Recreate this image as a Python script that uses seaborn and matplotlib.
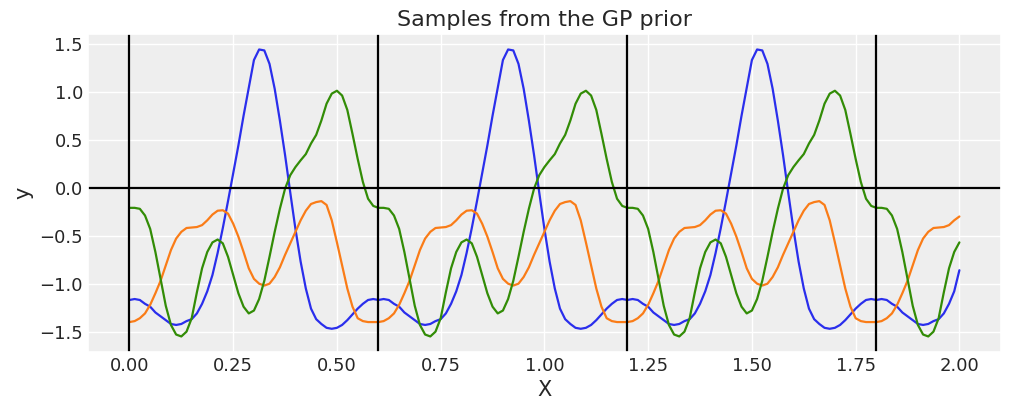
import numpy as np
import pandas as pd
import matplotlib
matplotlib.use("Agg")
import matplotlib.pyplot as plt
import seaborn as sns

# x grid (step 0.0125 from 0 to 2)
x_vals = [round(0.0125 * i, 4) for i in range(161)]

# values; the periodic kernel makes each 0.6 block repeat
blue_vals = [
    -1.17, -1.16, -1.17, -1.21, -1.24, -1.30, -1.34, -1.38, -1.42, -1.43, -1.42, -1.39,
    -1.37, -1.31, -1.21, -1.08, -0.91, -0.68, -0.42, -0.14, 0.15, 0.44, 0.75, 1.04,
    1.33, 1.44, 1.43, 1.29, 1.03, 0.70, 0.34, -0.05, -0.43, -0.77, -1.05, -1.26,
    -1.37, -1.42, -1.46, -1.47, -1.46, -1.43, -1.38, -1.32, -1.26, -1.21, -1.17, -1.16,
    -1.17, -1.16, -1.17, -1.21, -1.24, -1.30, -1.34, -1.38, -1.42, -1.43, -1.42, -1.39,
    -1.37, -1.31, -1.21, -1.08, -0.91, -0.68, -0.42, -0.14, 0.15, 0.44, 0.75, 1.04,
    1.33, 1.44, 1.43, 1.29, 1.03, 0.70, 0.34, -0.05, -0.43, -0.77, -1.05, -1.26,
    -1.37, -1.42, -1.46, -1.47, -1.46, -1.43, -1.38, -1.32, -1.26, -1.21, -1.17, -1.16,
    -1.17, -1.16, -1.17, -1.21, -1.24, -1.30, -1.34, -1.38, -1.42, -1.43, -1.42, -1.39,
    -1.37, -1.31, -1.21, -1.08, -0.91, -0.68, -0.42, -0.14, 0.15, 0.44, 0.75, 1.04,
    1.33, 1.44, 1.43, 1.29, 1.03, 0.70, 0.34, -0.05, -0.43, -0.77, -1.05, -1.26,
    -1.37, -1.42, -1.46, -1.47, -1.46, -1.43, -1.38, -1.32, -1.26, -1.21, -1.17, -1.16,
    -1.17, -1.16, -1.17, -1.21, -1.24, -1.30, -1.34, -1.38, -1.42, -1.43, -1.42, -1.39,
    -1.37, -1.31, -1.21, -1.08, -0.86,
]
orange_vals = [
    -1.40, -1.39, -1.36, -1.31, -1.22, -1.10, -0.97, -0.81, -0.65, -0.53, -0.46, -0.42,
    -0.415, -0.41, -0.39, -0.34, -0.28, -0.24, -0.235, -0.27, -0.375, -0.51, -0.67, -0.84,
    -0.95, -1.00, -1.02, -1.00, -0.93, -0.83, -0.70, -0.58, -0.46, -0.34, -0.24, -0.17,
    -0.15, -0.14, -0.18, -0.34, -0.57, -0.81, -1.05, -1.24, -1.36, -1.39, -1.40, -1.40,
    -1.40, -1.39, -1.36, -1.31, -1.22, -1.10, -0.97, -0.81, -0.65, -0.53, -0.46, -0.42,
    -0.415, -0.41, -0.39, -0.34, -0.28, -0.24, -0.235, -0.27, -0.375, -0.51, -0.67, -0.84,
    -0.95, -1.00, -1.02, -1.00, -0.93, -0.83, -0.70, -0.58, -0.46, -0.34, -0.24, -0.17,
    -0.15, -0.14, -0.18, -0.34, -0.57, -0.81, -1.05, -1.24, -1.36, -1.39, -1.40, -1.40,
    -1.40, -1.39, -1.36, -1.31, -1.22, -1.10, -0.97, -0.81, -0.65, -0.53, -0.46, -0.42,
    -0.415, -0.41, -0.39, -0.34, -0.28, -0.24, -0.235, -0.27, -0.375, -0.51, -0.67, -0.84,
    -0.95, -1.00, -1.02, -1.00, -0.93, -0.83, -0.70, -0.58, -0.46, -0.34, -0.24, -0.17,
    -0.15, -0.14, -0.18, -0.34, -0.57, -0.81, -1.05, -1.24, -1.36, -1.39, -1.40, -1.40,
    -1.40, -1.39, -1.36, -1.31, -1.22, -1.10, -0.97, -0.81, -0.65, -0.53, -0.46, -0.42,
    -0.415, -0.41, -0.39, -0.34, -0.30,
]
green_vals = [
    -0.21, -0.21, -0.22, -0.29, -0.43, -0.67, -0.95, -1.23, -1.43, -1.53, -1.55, -1.50,
    -1.36, -1.09, -0.84, -0.67, -0.57, -0.54, -0.58, -0.72, -0.91, -1.10, -1.24, -1.31,
    -1.28, -1.16, -0.97, -0.72, -0.46, -0.22, -0.01, 0.13, 0.215, 0.285, 0.35, 0.46,
    0.55, 0.70, 0.875, 0.98, 1.01, 0.96, 0.81, 0.56, 0.30, 0.06, -0.115, -0.19,
    -0.21, -0.21, -0.22, -0.29, -0.43, -0.67, -0.95, -1.23, -1.43, -1.53, -1.55, -1.50,
    -1.36, -1.09, -0.84, -0.67, -0.57, -0.54, -0.58, -0.72, -0.91, -1.10, -1.24, -1.31,
    -1.28, -1.16, -0.97, -0.72, -0.46, -0.22, -0.01, 0.13, 0.215, 0.285, 0.35, 0.46,
    0.55, 0.70, 0.875, 0.98, 1.01, 0.96, 0.81, 0.56, 0.30, 0.06, -0.115, -0.19,
    -0.21, -0.21, -0.22, -0.29, -0.43, -0.67, -0.95, -1.23, -1.43, -1.53, -1.55, -1.50,
    -1.36, -1.09, -0.84, -0.67, -0.57, -0.54, -0.58, -0.72, -0.91, -1.10, -1.24, -1.31,
    -1.28, -1.16, -0.97, -0.72, -0.46, -0.22, -0.01, 0.13, 0.215, 0.285, 0.35, 0.46,
    0.55, 0.70, 0.875, 0.98, 1.01, 0.96, 0.81, 0.56, 0.30, 0.06, -0.115, -0.19,
    -0.21, -0.21, -0.22, -0.29, -0.43, -0.67, -0.95, -1.23, -1.43, -1.53, -1.55, -1.50,
    -1.36, -1.09, -0.84, -0.67, -0.57,
]
period_marks = [0.0, 0.6, 1.2, 1.8]

colors = ["#2a2eec", "#fa7c17", "#328c06"]

sns.set_theme(style="darkgrid", rc={
    "axes.facecolor": "#eeeeee",
    "figure.facecolor": "white",
    "grid.color": "white",
    "grid.linewidth": 1.0,
    "axes.edgecolor": "white",
})
plt.rcParams["font.family"] = ["DejaVu Sans"]

fig, ax = plt.subplots(figsize=(10.11, 4.11), dpi=100)
fig.subplots_adjust(left=0.087, right=0.99, top=0.917, bottom=0.144)

for vals, c in zip([blue_vals, orange_vals, green_vals], colors):
    df = pd.DataFrame({"X": x_vals, "y": vals})
    sns.lineplot(data=df, x="X", y="y", color=c, linewidth=1.6, ax=ax)

ax.axhline(0, color="black", linewidth=1.6)
for m in period_marks:
    ax.axvline(m, color="black", linewidth=1.6)

ax.set_xlim(-0.1, 2.1)
ax.set_ylim(-1.71, 1.6)
ax.set_xticks([0.0, 0.25, 0.5, 0.75, 1.0, 1.25, 1.5, 1.75, 2.0])
ax.set_xticklabels(["0.00", "0.25", "0.50", "0.75", "1.00", "1.25", "1.50", "1.75", "2.00"])
ax.set_yticks([-1.5, -1.0, -0.5, 0.0, 0.5, 1.0, 1.5])
ax.tick_params(labelsize=13, colors="#262626", length=0)
ax.set_xlabel("X", fontsize=15, color="#262626")
ax.set_ylabel("y", fontsize=15, color="#262626")
ax.set_title("Samples from the GP prior", fontsize=16, color="#262626")

plt.savefig("out.png", dpi=100)
